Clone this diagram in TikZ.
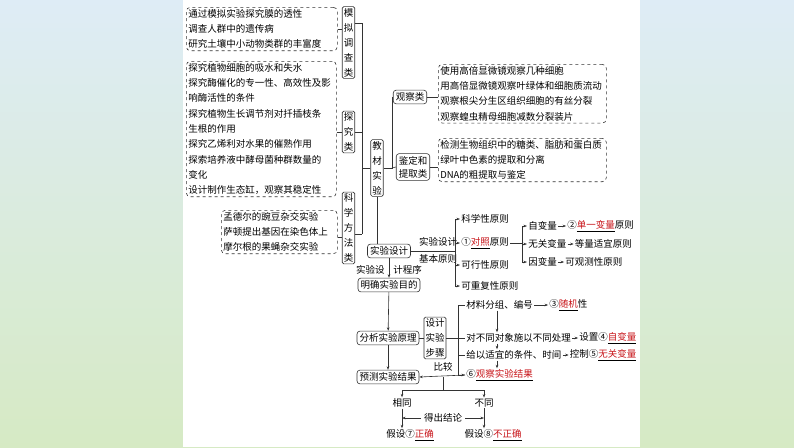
\documentclass[tikz,border=0pt]{standalone}
\usepackage{fontspec}
\setmainfont{Noto Sans CJK SC}
\usetikzlibrary{positioning,arrows.meta}
\definecolor{ansred}{RGB}{200,20,25}
\definecolor{skytop}{RGB}{222,236,246}
\definecolor{grassbot}{RGB}{214,234,196}
\newcommand\ans[1]{\underline{\textcolor{ansred}{#1}}}
\tikzset{
  txt/.style={inner sep=1pt,font=\fontsize{9.5}{15.3}\selectfont},
  dbox/.style={txt,draw,dashed,rounded corners=4pt,align=left,anchor=north west,inner sep=2pt},
  vbox/.style={txt,draw,rounded corners=1.5pt,align=center,inner sep=1.5pt,font=\fontsize{9.5}{15}\selectfont},
  sbox/.style={txt,draw,rounded corners=3pt,inner sep=2.5pt},
  arr/.style={-{Stealth[length=3.5pt,width=2.6pt]}}
}
\begin{document}
\begin{tikzpicture}[x=1pt,y=-1pt,line width=0.6pt,draw=black!80]
  \useasboundingbox (0,0) rectangle (794,447);
  \shade[top color=skytop,bottom color=grassbot] (0,0) rectangle (794,447);
  \fill[white] (183,0) rectangle (640,447);
  % teaching experiments
  \node [dbox,text width=147pt] (mnbox) at (186,7) {通过模拟实验探究膜的透性\\调查人群中的遗传病\\研究土壤中小动物类群的丰富度};
  \node [dbox,text width=146pt] (tjbox) at (186,61) {探究植物细胞的吸水和失水\\探究酶催化的专一性、高效性及影\\响酶活性的条件\\探究植物生长调节剂对扦插枝条\\生根的作用\\探究乙烯利对水果的催熟作用\\探索培养液中酵母菌种群数量的\\变化\\设计制作生态缸，观察其稳定性};
  \node [dbox,text width=112pt] (kxbox) at (221,210) {孟德尔的豌豆杂交实验\\萨顿提出基因在染色体上\\摩尔根的果蝇杂交实验};
  \node [vbox] (mndc) at (348.5,42.5) {模\\拟\\调\\查\\类};
  \node [vbox] (tjl) at (348.5,132) {探\\究\\类};
  \node [vbox] (kxff) at (348.5,228) {科\\学\\方\\法\\类};
  \node [vbox] (jcsy) at (377,168) {教\\材\\实\\验};
  \node [sbox] (gcl) at (410,97) {观察类};
  \node [sbox,align=center,font=\fontsize{9.5}{13}\selectfont] (jdtq) at (413,167) {鉴定和\\提取类};
  \node [dbox,text width=164pt] (gcbox) at (438,64) {使用高倍显微镜观察几种细胞\\用高倍显微镜观察叶绿体和细胞质流动\\观察根尖分生区组织细胞的有丝分裂\\观察蝗虫精母细胞减数分裂装片};
  \node [dbox,text width=164pt] (jdbox) at (438,138) {检测生物组织中的糖类、脂肪和蛋白质\\绿叶中色素的提取和分离\\DNA的粗提取与鉴定};
  \coordinate (spt) at (362,23);
  \coordinate (spb) at (362,234);
  \draw (spt) -- (spb);
  \draw (mndc.east |- spt) -- (spt);
  \draw (tjl.east) -- (tjl.east -| spt);
  \draw (kxff.east |- spb) -- (spb);
  \draw (jcsy.west) -- (jcsy.west -| spt);
  \draw (mnbox.east) -- (mnbox.east -| mndc.west);
  \draw (tjbox.east |- tjl.east) -- (tjl.west);
  \draw (kxbox.east |- 0,237) -- (kxff.west |- 0,237);
  \draw (jcsy.east) -- (392,168) |- (gcl.west);
  \draw (392,168) -- (jdtq.west);
  \draw (gcl.east) -- (gcbox.west |- gcl.east);
  \draw (jdtq.east) -- (jdbox.west |- jdtq.east);
  % experiment design
  \node [sbox] (sjsj) at (389,251) {实验设计};
  \draw (jcsy.south) -- (jcsy.south |- sjsj.north);
  \node [txt] (sjl1) at (438,242) {实验设计};
  \node [txt] (sjl2) at (438,259) {基本原则};
  \coordinate (yzt) at (455,219);
  \coordinate (yzb) at (455,286);
  \draw (sjsj.east) -- (sjsj.east -| yzt);
  \draw (yzt) -- (yzb);
  \node [txt,anchor=west] (kxx) at (460,219) {科学性原则};
  \node [txt,anchor=west] (dzyz) at (460,243) {①\ans{对照}原则};
  \node [txt,anchor=west] (kxyz) at (460,265) {可行性原则};
  \node [txt,anchor=west] (kcfx) at (460,286) {可重复性原则};
  \foreach \n in {kxx,dzyz,kxyz,kcfx}
    \draw [arr] (yzt |- \n.west) -- (\n.west);
  \coordinate (blt) at (522,226);
  \coordinate (blb) at (522,262);
  \draw (dzyz.east) -- (dzyz.east -| blt);
  \draw (blt) -- (blb);
  \node [txt,anchor=west] (zbl) at (527,226) {自变量};
  \node [txt,anchor=west] (wgbl) at (527,244) {无关变量};
  \node [txt,anchor=west] (ybl) at (527,262) {因变量};
  \foreach \n in {zbl,wgbl,ybl}
    \draw [arr] (blt |- \n.west) -- (\n.west);
  \node [txt,right=8pt of zbl] (dybl) {②\ans{单一变量}原则};
  \node [txt,right=6pt of wgbl] (dlsy) {等量适宜原则};
  \node [txt,right=6pt of ybl] (kgc) {可观测性原则};
  \draw [arr] (zbl) -- (dybl);
  \draw [arr] (wgbl) -- (dlsy);
  \draw [arr] (ybl) -- (kgc);
  % procedure
  \node [sbox] (mqmd) at (389,285) {明确实验目的};
  \node [txt,anchor=east] (cxl1) at (386,270) {实验设};
  \node [txt,anchor=west] (cxl2) at (392,270) {计程序};
  \draw [arr] (sjsj.south) -- (sjsj.south |- mqmd.north);
  \node [sbox] (fxyl) at (388,338) {分析实验原理};
  \node [sbox] (ycjg) at (388,377) {预测实验结果};
  \draw [arr] (mqmd) -- (fxyl);
  \draw [arr] (fxyl) -- (ycjg);
  \node [vbox] (sjbz) at (435,338) {设计\\实验\\步骤};
  \coordinate (bzt) at (458,305);
  \coordinate (bzb) at (458,375);
  \draw (fxyl.east) -- (sjbz.west);
  \draw (sjbz.east) -- (sjbz.east -| bzt);
  \node [txt,anchor=west] (clfz) at (465,305) {材料分组、编号};
  \node [txt,anchor=west] (dbt) at (465,338) {对不同对象施以不同处理};
  \node [txt,anchor=west] (gysy) at (465,355) {给以适宜的条件、时间};
  \node [txt,anchor=west] (gcjg) at (465,375) {⑥\ans{观察实验结果}};
  \draw (bzt) -- (clfz.west) (bzt) -- (bzb);
  \draw (bzt |- dbt.west) -- (dbt.west);
  \draw (bzt |- gysy.west) -- (gysy.west);
  \draw [arr] (bzb) -- (gcjg.west);
  \coordinate (dx) at (497,0);
  \draw [arr] (clfz.south -| dx) -- (dbt.north -| dx);
  \draw [arr] (dbt.south -| dx) -- (gysy.north -| dx);
  \draw [arr] (gysy.south -| dx) -- (gcjg.north -| dx);
  \node [txt,right=14pt of clfz] (sjx) {③\ans{随机}性};
  \node [txt,right=6pt of dbt] (szzb) {设置④\ans{自变量}};
  \node [txt,right=6pt of gysy] (kzwg) {控制⑤\ans{无关变量}};
  \draw [arr] (clfz) -- (sjx);
  \draw [arr] (dbt) -- (szzb);
  \draw [arr] (gysy) -- (kzwg);
  \draw [arr] (gcjg.west) -- (ycjg.east);
  \node [txt] (bj) at (443,367) {比较};
  % conclusion
  \coordinate (fc) at (443,390);
  \draw (443,377) -- (fc);
  \node [txt] (xt) at (402,403) {相同};
  \node [txt] (bt) at (484,403) {不同};
  \draw [arr] (fc) -| (xt.north);
  \draw [arr] (fc) -| (bt.north);
  \node [txt] (jd7) at (410,435) {假设⑦\ans{正确}};
  \node [txt] (jd8) at (493,435) {假设⑧\ans{不正确}};
  \draw [arr] (xt.south) -- (xt.south |- jd7.north);
  \draw [arr] (bt.south) -- (bt.south |- jd7.north);
  \draw [{Stealth[length=3.5pt,width=2.6pt]}-{Stealth[length=3.5pt,width=2.6pt]}] (xt.south |- 0,418) -- node [txt,fill=white,inner xsep=3pt] (dcjl) {得出结论} (bt.south |- 0,418);
\end{tikzpicture}
\end{document}
